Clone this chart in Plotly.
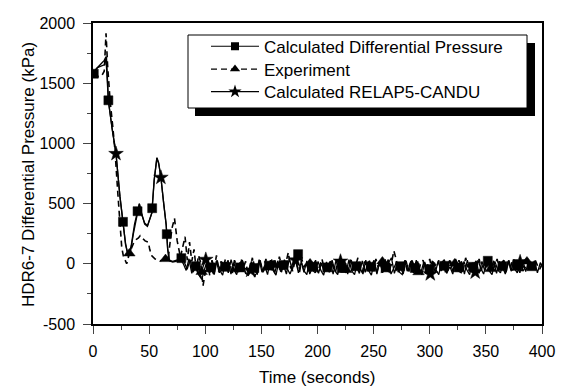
import numpy as np
import plotly.graph_objects as go

# ---------------- data ----------------
# Calculated Differential Pressure (solid, squares)
CDP_EARLY_T = [0, 1.5, 4, 8, 10.5, 12, 13.7, 17, 20.5, 24, 26.5, 29, 31, 33, 36, 39.6, 41.3, 43, 46,
               48.5, 50.5, 52.4, 54.5, 56.9, 58.5, 60.4, 63, 65.2, 66.5, 68, 71, 74, 78.7]
CDP_EARLY_P = [1560, 1600, 1630, 1645, 1655, 1720, 1358, 1120, 914, 560, 364, 170, 80, 75, 250, 433, 497, 420, 340,
               316, 370, 422, 700, 880, 830, 725, 500, 325, 120, 25, 15, 20, 47]
CDP_LATE_T0 = 78.7
CDP_LATE_DT = 2.6
CDP_LATE_P = [
    47, 15, -45, 35, -70,
    -20, -90, -130, -40, 30,
    -30, -85, 25, -75, 15,
    -25, 30, -85, 10, -70,
    -30, 25, -80, -95, 20,
    -35, -90, 30, -70, 5,
    -15, 35, -80, 25, -65,
    -10, -85, 45, -55, 60,
    80, 30, -70, 25, -85,
    -25, 30, -80, 5, -70,
    -30, 20, -85, 30, -65,
    -35, 25, -85, 35, -55,
    -20, -80, 25, -70, 20,
    -25, 30, -85, 25, -65,
    -30, 10, 50, -80, 5,
    -20, -85, 25, -65, 30,
    -35, 20, -80, 10, -70,
    -44, 25, -75, 20, -60,
    -17, -80, 30, -65, 40,
    -30, 20, -85, 30, -65,
    -25, 25, -80, 20, -60,
    25, -65, 25, -80, 20,
    -20, -85, 25, -60, 35,
    -17, -75, 30, -65, 20,
    -20, 25, -75, 10, -45,
]
CDP_MARK_FIRST = 0.7
CDP_MARK_EVERY = 13.0

# Experiment (dashed, triangles)
EXP_EARLY_T = [0, 2, 5, 8, 10, 11.6, 13, 15.2, 17.5, 19.6, 22, 24, 25.6, 27, 28.5, 30, 32.4, 34, 36.5, 39,
               40.5, 42, 44, 46.4, 49.4, 50.5, 52.4, 55.4, 59.8, 64.6, 67, 68.8, 70.5, 72.6, 75, 77.7, 78]
EXP_EARLY_P = [1560, 1565, 1555, 1565, 1600, 1914, 1650, 1358, 1150, 941, 600, 300, 136, 67, 30, 0, 86, 120, 180, 206,
               215, 233, 210, 190, 178, 120, 67, 40, 25, 39, 40, 190, 300, 378, 190, 65, 60]
EXP_LATE_T0 = 78
EXP_LATE_DT = 2.0
EXP_LATE_P = [
    60, 140, 225, 30, 180, 20, 120, -50, 70, 10,
    -183, -70, 50, -100, 30, -40, 70, -65, 20, -30,
    40, -55, 10, -90, 30, -15, -70, 40, -30, 20,
    -80, -25, 50, -110, -40, 30, -15, -60, 40, -30,
    10, -70, 30, -45, 60, -15, -60, 20, 94, -30,
    -60, 30, -15, -70, 40, -30, 10, -60, 30, -45,
    20, -70, -15, 40, -45, 10, -60, 30, -30, -70,
    20, -45, 40, -15, -60, 10, 30, -45, -15, 50,
    -30, -70, 20, -45, 30, -15, -60, 40, -30, 10,
    20, -45, 30, -60, 10, 108, 40, -70, 10, -30,
    30, -60, -15, 40, -45, 20, -70, 10, 30, -45,
    -15, 40, -60, 10, -30, 30, -45, 20, -70, -15,
    40, -30, 10, -60, 30, -15, -45, 50, -30, 10,
    -60, 30, -15, 40, -45, 10, -30, 50, -60, 20,
    -30, 40, -45, 10, 30, -60, 20, -30, 40, -15,
    -45, 30, -60, 10, 40, -30, 20, -60, 30, -15,
    -45, 0,
]
EXP_MARK_FIRST = 32.4
EXP_MARK_EVERY = 32.2

# Calculated RELAP5-CANDU (solid, stars)
REL_EARLY_T = [0, 3, 7, 10, 11.5, 13.7, 17, 20.5, 24, 26.5, 29, 31.5, 34, 37, 39.6, 41.3, 43, 46, 48.5, 50.5,
               52.4, 54.5, 56.9, 58.5, 60.4, 63, 65.2, 66.5, 68, 71, 74, 78]
REL_EARLY_P = [1580, 1620, 1660, 1690, 1720, 1350, 1130, 914, 560, 360, 160, 60, 150, 330, 430, 500, 430, 330, 310, 360,
               420, 690, 880, 840, 725, 500, 320, 130, 30, 20, 30, 40]
REL_LATE_T0 = 78
REL_LATE_DT = 2.5
REL_LATE_P = [
    40, 0, -55, 40, -80, 15, -70, -110, -25, 35,
    -70, 10, -90, 30, -55, -95, 15, -75, 35, -50,
    -90, 5, 30, -70, -86, -55, 20, -75, 35, -70,
    -15, -90, 30, -55, -95, 15, -70, 35, -40, -85,
    -25, 30, -75, 15, -60, -90, 35, -50, -75, 20,
    -55, -95, 15, -70, 30, -60, -90, 20, -40, -75,
    35, -60, -90, 10, -40, -85, 30, -55, -95, 15,
    -70, 20, -75, -25, 35, -85, -40, 15, -70, -90,
    20, -60, 10, -75, 30, -40, -90, 15, -55, -85,
    20, -50, -90, 10, 35, -70, -25, -85, 15, -60,
    -75, 20, -50, -90, 10, -70, 30, -40, -85, 15,
    -60, -90, 20, -50, -75, 10, -70, 30, -55, -40,
    -75, 15, -60, -25,
]
REL_MARK_FIRST = 20.5
REL_MARK_EVERY = 40.0

SERIES_NAMES = ["Calculated Differential Pressure", "Experiment", "Calculated RELAP5-CANDU"]
X_TITLE = "Time (seconds)"
Y_TITLE = "HDR6-7 Differential Pressure (kPa)"

X_RANGE = [0, 400]
Y_RANGE = [-500, 2000]
X_TICKS = [0, 50, 100, 150, 200, 250, 300, 350, 400]
Y_TICKS = [-500, 0, 500, 1000, 1500, 2000]

# ---------------- figure ----------------
FONT = "Arial, 'Liberation Sans', sans-serif"
fig = go.Figure()

# plot area in pixels: x 93..542, y 23..324
L, R, T, B = 93, 20, 23, 66
W, H = 562, 390
pw, ph = W - L - R, H - T - B


def px_x(x):
    return (x - L) / pw


def px_y(y):
    return (H - B - y) / ph


LEGEND_ROWS_Y = [46.7, 69.5, 92]


def add_series(k, early_t, early_p, late_t0, late_dt, late_p, mark_first, mark_every, name, dash, symbol,
               msize, lsize, lw):
    line = dict(color="black", width=lw, dash=dash)
    fig.add_trace(go.Scatter(x=early_t, y=early_p, mode="lines", line=line,
                             showlegend=False, hoverinfo="skip"))
    fig.add_trace(go.Scatter(x0=late_t0, dx=late_dt, y=late_p, mode="lines", line=line,
                             showlegend=False, hoverinfo="skip"))
    # markers sit on the series line
    all_t = np.concatenate([np.asarray(early_t, float),
                            late_t0 + late_dt * np.arange(len(late_p))])
    all_p = np.concatenate([np.asarray(early_p, float), np.asarray(late_p, float)])
    order = np.argsort(all_t, kind="stable")
    all_t, all_p = all_t[order], all_p[order]
    mt = np.arange(mark_first, X_RANGE[1] + 0.01, mark_every)
    mp = np.interp(mt, all_t, all_p)
    fig.add_trace(go.Scatter(x=mt, y=mp, mode="markers",
                             marker=dict(symbol=symbol, size=msize, color="black",
                                         line=dict(color="black", width=0.5)),
                             showlegend=False, hoverinfo="skip"))
    # legend entry (one legend per row)
    lname = "legend" if k == 0 else f"legend{k + 1}"
    fig.add_trace(go.Scatter(x=[None], y=[None], mode="lines+markers", name=name,
                             line=dict(color="black", width=1.2, dash=dash), legend=lname,
                             marker=dict(symbol=symbol, size=lsize, color="black")))
    return lname


legend_names = []
legend_names.append(add_series(0, CDP_EARLY_T, CDP_EARLY_P, CDP_LATE_T0, CDP_LATE_DT, CDP_LATE_P,
                               CDP_MARK_FIRST, CDP_MARK_EVERY, SERIES_NAMES[0], "solid", "square", 9, 8, 1.3))
legend_names.append(add_series(1, EXP_EARLY_T, EXP_EARLY_P, EXP_LATE_T0, EXP_LATE_DT, EXP_LATE_P,
                               EXP_MARK_FIRST, EXP_MARK_EVERY, SERIES_NAMES[1], "6px,4px", "triangle-up", 10, 9,
                               1.6))
legend_names.append(add_series(2, REL_EARLY_T, REL_EARLY_P, REL_LATE_T0, REL_LATE_DT, REL_LATE_P,
                               REL_MARK_FIRST, REL_MARK_EVERY, SERIES_NAMES[2], "solid", "star", 11, 10, 1.3))

shapes = [
    dict(type="rect", xref="paper", yref="paper", x0=px_x(195), x1=px_x(535), y0=px_y(116), y1=px_y(43),
         fillcolor="black", line=dict(width=0), layer="above"),
    dict(type="rect", xref="paper", yref="paper", x0=px_x(188), x1=px_x(527), y0=px_y(108), y1=px_y(35),
         fillcolor="white", line=dict(color="black", width=1), layer="above"),
]

annotations = [
    dict(text=X_TITLE, xref="paper", yref="paper", x=px_x(317), y=px_y(377), xanchor="center",
         yanchor="middle", showarrow=False, font=dict(size=17, family=FONT, color="black")),
    dict(text=Y_TITLE, xref="paper", yref="paper", x=px_x(28), y=px_y(175), xanchor="center",
         yanchor="middle", textangle=-90, showarrow=False, font=dict(size=17, family=FONT, color="black")),
]

legend_common = dict(xanchor="left", yanchor="middle", bgcolor="rgba(0,0,0,0)", borderwidth=0,
                     font=dict(size=17, family=FONT, color="black"), itemwidth=48)
layout_legends = {}
for i, lname in enumerate(legend_names):
    layout_legends[lname] = dict(legend_common, x=px_x(206), y=px_y(LEGEND_ROWS_Y[i]))

fig.update_layout(
    width=W, height=H,
    margin=dict(l=L, r=R, t=T, b=B, autoexpand=False),
    paper_bgcolor="white", plot_bgcolor="white",
    font=dict(family=FONT, size=16, color="black"),
    shapes=shapes,
    annotations=annotations,
    **layout_legends,
    xaxis=dict(range=X_RANGE, tickvals=X_TICKS, ticktext=[str(v) for v in X_TICKS],
               ticks="outside", ticklen=8, tickwidth=1.2, automargin=False,
               showline=True, linewidth=1.5, linecolor="black", mirror=True, showgrid=False,
               zeroline=False, minor=dict(dtick=25, tick0=0, ticks="outside", ticklen=4, tickwidth=1.2),
               tickfont=dict(size=16), ticklabelstandoff=4),
    yaxis=dict(range=Y_RANGE, tickvals=Y_TICKS, ticktext=[str(v) for v in Y_TICKS],
               ticks="outside", ticklen=8, tickwidth=1.2, automargin=False,
               showline=True, linewidth=1.5, linecolor="black", mirror=True, showgrid=False,
               zeroline=False, minor=dict(dtick=250, tick0=0, ticks="outside", ticklen=4, tickwidth=1.2),
               tickfont=dict(size=16), ticklabelstandoff=5),
)

fig.write_html("out.html")
